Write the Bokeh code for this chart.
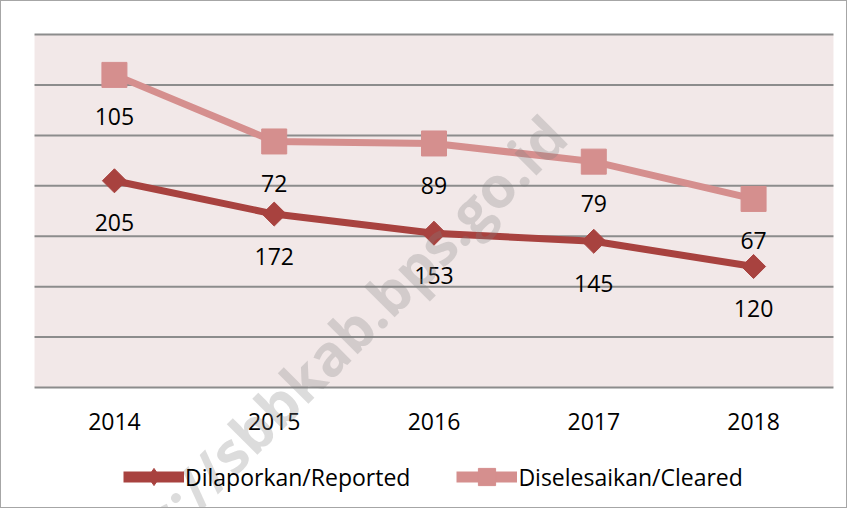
import math
from bokeh.plotting import figure
from bokeh.models import (Range1d, FactorRange, Legend, LegendItem, ColumnDataSource, Label)
from bokeh.core.properties import value
from bokeh.embed import file_html
from bokeh.resources import INLINE

years = ["2014", "2015", "2016", "2017", "2018"]
reported = [205, 172, 153, 145, 120]
cleared = [105, 72, 89, 79, 67]
grid_ticks = [0, 50, 100, 150, 200, 250, 300, 350]

# stacked line chart: cleared is drawn on top of reported
cleared_top = [r + c for r, c in zip(reported, cleared)]

DARK = "#A8423F"
LIGHT = "#D58F8E"
BG = "#F2E8E8"
GRID = "#8c8c8c"
FONT = "Open Sans"
FS = "23px"

src = ColumnDataSource(dict(x=years, rep=reported, clr=cleared, top=cleared_top,
                            rep_lbl=[str(v) for v in reported],
                            clr_lbl=[str(v) for v in cleared]))

# the frame covers (almost) the whole figure; the plot area is drawn inside it
p = figure(x_range=FactorRange(factors=years, range_padding=0.03764, range_padding_units="percent"),
           y_range=Range1d(-120.93, 382.77), width=847, height=508,
           x_axis_location=None, y_axis_location=None,
           output_backend="svg", toolbar_location=None,
           min_border_left=18, min_border_top=0, min_border_right=0, min_border_bottom=0)
p.grid.visible = False
p.background_fill_color = "white"
p.border_fill_color = "white"
p.outline_line_color = None
p.styles = {"border": "1px solid #a6a6a6"}

n = len(years)
# plot-area background and horizontal gridlines
p.quad(left=0, right=n, bottom=grid_ticks[0], top=grid_ticks[-1], fill_color=BG, line_color=None)
p.segment(x0=[0] * len(grid_ticks), x1=[n] * len(grid_ticks), y0=grid_ticks, y1=grid_ticks,
          line_color=GRID, line_width=2)

# category labels under the plot area
p.text(x=years, y=[grid_ticks[0]] * n, text=years, text_font=value(FONT), text_font_size=FS,
       text_align="center", text_baseline="middle", y_offset=34, text_color="black")

# series
p.line("x", "rep", source=src, line_color=DARK, line_width=7)
p.scatter("x", "rep", source=src, marker="square", angle=math.pi / 4, size=17,
          fill_color=DARK, line_color=DARK)
p.line("x", "top", source=src, line_color=LIGHT, line_width=7)
p.scatter("x", "top", source=src, marker="square", size=25,
          fill_color=LIGHT, line_color=LIGHT)

# data labels
p.text("x", "rep", text="rep_lbl", source=src, text_font=value(FONT), text_font_size=FS,
       text_align="center", text_baseline="middle", y_offset=42, text_color="black")
p.text("x", "top", text="clr_lbl", source=src, text_font=value(FONT), text_font_size=FS,
       text_align="center", text_baseline="middle", y_offset=42, text_color="black")

# legend-only renderers, placed far outside the visible range
off = [-1000, -1000]
l1 = p.line(x=years[:2], y=off, line_color=DARK, line_width=11)
m1 = p.scatter(x=years[:1], y=off[:1], marker="diamond", fill_color=DARK, line_color=DARK)
l2 = p.line(x=years[:2], y=off, line_color=LIGHT, line_width=11)
m2 = p.scatter(x=years[:1], y=off[:1], marker="square", fill_color=LIGHT, line_color=LIGHT)

legend = Legend(items=[LegendItem(label="Dilaporkan/Reported", renderers=[l1, m1]),
                       LegendItem(label="Diselesaikan/Cleared", renderers=[l2, m2])],
                orientation="horizontal", location=(104, 11),
                glyph_width=61, glyph_height=43, label_standoff=1, spacing=46,
                label_text_font=FONT, label_text_font_size=FS, label_text_color="black",
                border_line_color=None, background_fill_alpha=0, padding=0, margin=0)
p.add_layout(legend)

# faint watermark
wm = Label(x=536, y=384, x_units="screen", y_units="screen", text="https://sbbkab.bps.go.id",
           angle=45, angle_units="deg", text_align="right", text_baseline="alphabetic",
           text_font=FONT, text_font_style="bold", text_font_size="57px",
           text_color="#808080", text_alpha=0.28)
p.add_layout(wm)

open("out.html", "w").write(file_html(p, INLINE))
